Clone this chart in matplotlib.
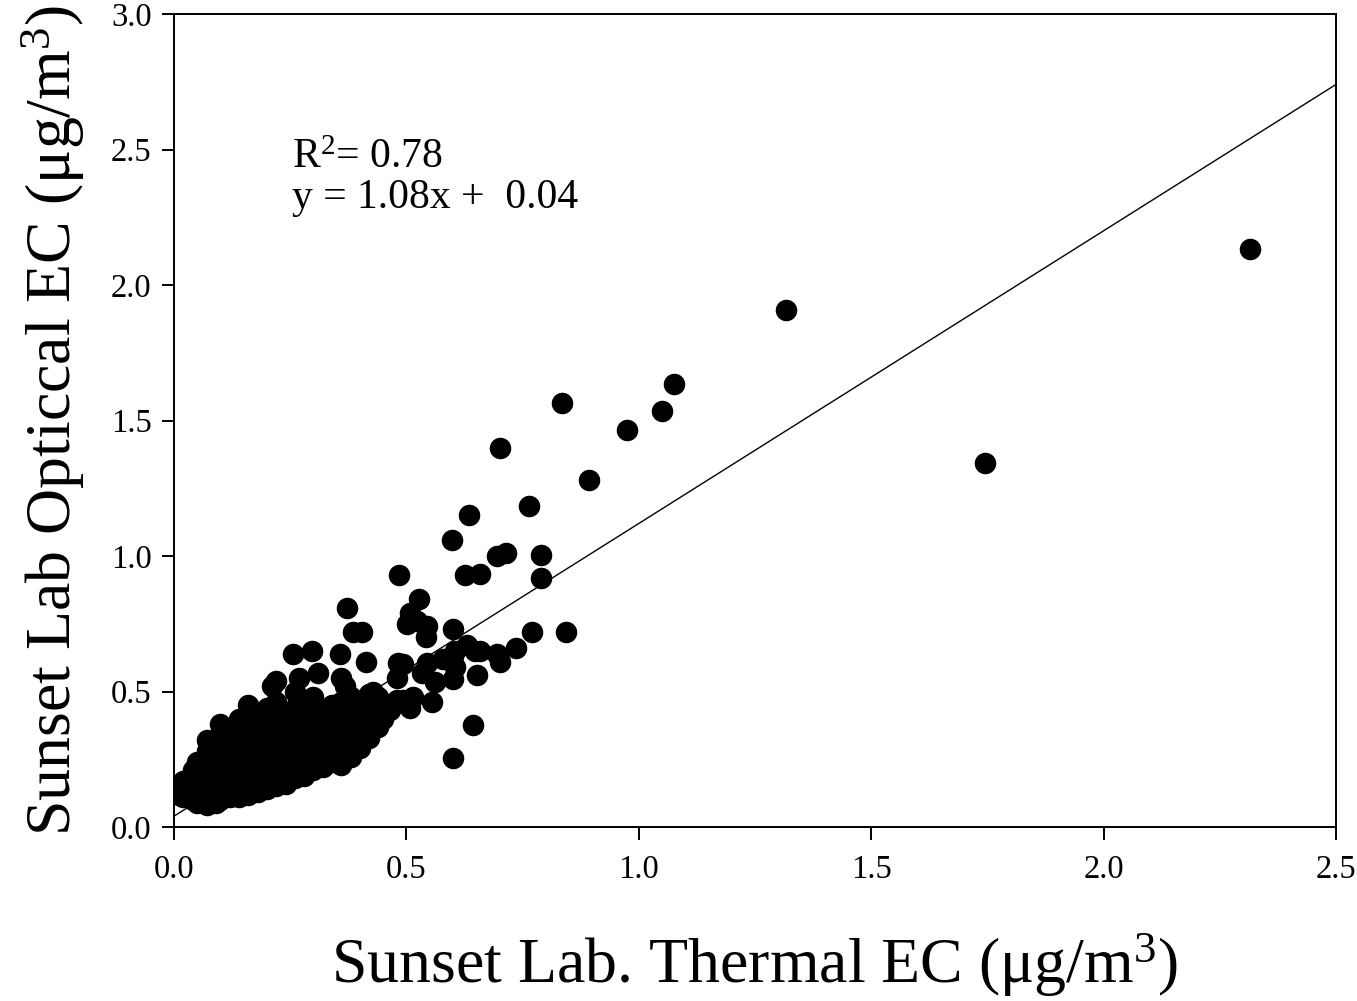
import matplotlib
matplotlib.use('Agg')
import matplotlib.pyplot as plt
import numpy as np

plt.rcParams['font.family'] = ['Liberation Serif', 'DejaVu Serif']
plt.rcParams['mathtext.fontset'] = 'custom'
plt.rcParams['mathtext.rm'] = 'Liberation Serif'
plt.rcParams['mathtext.it'] = 'Liberation Serif:italic'

# ---- Data (thermal EC, optical EC), ug/m3
thermal_ec = [
    0.01, 0.01,
    0.02, 0.02, 0.02,
    0.04, 0.04, 0.04, 0.04,
    0.05, 0.05, 0.05, 0.05, 0.05,
    0.07, 0.07, 0.07, 0.07, 0.07, 0.07, 0.07,
    0.09, 0.09, 0.09, 0.09, 0.09, 0.09,
    0.10, 0.10, 0.10, 0.10, 0.10, 0.10, 0.10, 0.10,
    0.12, 0.12, 0.12, 0.12, 0.12, 0.12, 0.12,
    0.14, 0.14, 0.14, 0.14, 0.14, 0.14, 0.14, 0.14,
    0.16, 0.16, 0.16, 0.16, 0.16, 0.16, 0.16, 0.16, 0.16,
    0.18, 0.18, 0.18, 0.18, 0.18, 0.18, 0.18, 0.18,
    0.20, 0.20, 0.20, 0.20, 0.20, 0.20, 0.20, 0.20,
    0.22, 0.22, 0.22, 0.22, 0.22, 0.22, 0.22, 0.22, 0.21,
    0.24, 0.24, 0.24, 0.24, 0.24, 0.24, 0.24, 0.22,
    0.26, 0.26, 0.26, 0.26, 0.26, 0.26, 0.26, 0.26, 0.256,
    0.28, 0.28, 0.28, 0.28, 0.28, 0.28, 0.28, 0.27,
    0.30, 0.30, 0.30, 0.30, 0.30, 0.30, 0.30, 0.297, 0.31,
    0.32, 0.32, 0.32, 0.32, 0.32, 0.32,
    0.34, 0.34, 0.34, 0.34, 0.34, 0.34,
    0.36, 0.36, 0.36, 0.36, 0.36, 0.36, 0.36, 0.357, 0.368,
    0.372, 0.38, 0.38, 0.38, 0.38, 0.38, 0.38, 0.385, 0.404,
    0.40, 0.40, 0.40, 0.40, 0.40, 0.413,
    0.42, 0.42, 0.42, 0.42, 0.42, 0.428,
    0.44, 0.44, 0.44, 0.44, 0.45,
    0.46, 0.465, 0.48, 0.484, 0.493, 0.482, 0.48, 0.493,
    0.501, 0.508, 0.508, 0.514, 0.523, 0.527, 0.542, 0.544, 0.544, 0.533, 0.555,
    0.561, 0.579, 0.598, 0.600, 0.600, 0.600, 0.605, 0.605, 0.626, 0.630, 0.600,
    0.635, 0.643, 0.648, 0.652, 0.658, 0.658, 0.695, 0.695, 0.701, 0.701,
    0.714, 0.736, 0.764, 0.770, 0.790, 0.790, 0.835, 0.843, 0.893,
    0.975, 1.050, 1.076, 1.317, 1.745, 2.315,
]
optical_ec = [
    0.13, 0.12,
    0.11, 0.14, 0.17,
    0.10, 0.13, 0.17, 0.21,
    0.09, 0.12, 0.16, 0.20, 0.24,
    0.08, 0.12, 0.16, 0.20, 0.24, 0.28, 0.32,
    0.09, 0.13, 0.17, 0.21, 0.25, 0.29,
    0.10, 0.14, 0.18, 0.22, 0.26, 0.30, 0.34, 0.38,
    0.11, 0.15, 0.19, 0.23, 0.27, 0.31, 0.35,
    0.11, 0.15, 0.19, 0.23, 0.27, 0.31, 0.36, 0.40,
    0.12, 0.16, 0.20, 0.24, 0.28, 0.32, 0.37, 0.42, 0.45,
    0.13, 0.17, 0.21, 0.25, 0.29, 0.34, 0.38, 0.41,
    0.14, 0.18, 0.22, 0.26, 0.30, 0.35, 0.39, 0.44,
    0.15, 0.19, 0.23, 0.27, 0.31, 0.36, 0.40, 0.46, 0.52,
    0.16, 0.20, 0.24, 0.28, 0.32, 0.37, 0.42, 0.54,
    0.18, 0.22, 0.26, 0.30, 0.34, 0.38, 0.44, 0.50, 0.64,
    0.19, 0.23, 0.27, 0.31, 0.35, 0.40, 0.45, 0.55,
    0.21, 0.25, 0.29, 0.33, 0.37, 0.42, 0.48, 0.65, 0.57,
    0.22, 0.26, 0.30, 0.34, 0.38, 0.43,
    0.24, 0.28, 0.32, 0.36, 0.40, 0.45,
    0.23, 0.27, 0.31, 0.35, 0.40, 0.46, 0.55, 0.64, 0.52,
    0.81, 0.26, 0.30, 0.34, 0.38, 0.43, 0.48, 0.72, 0.72,
    0.29, 0.33, 0.37, 0.41, 0.46, 0.61,
    0.33, 0.37, 0.41, 0.45, 0.49, 0.50,
    0.37, 0.41, 0.45, 0.48, 0.40,
    0.43, 0.43, 0.55, 0.93, 0.60, 0.605, 0.47, 0.47,
    0.75, 0.79, 0.44, 0.48, 0.76, 0.84, 0.70, 0.74, 0.605, 0.57, 0.46,
    0.535, 0.62, 1.06, 0.73, 0.63, 0.545, 0.59, 0.65, 0.93, 0.67, 0.255,
    1.15, 0.375, 0.65, 0.56, 0.65, 0.935, 1.00, 0.64, 1.40, 0.61,
    1.01, 0.66, 1.185, 0.72, 1.005, 0.92, 1.565, 0.72, 1.28,
    1.465, 1.535, 1.635, 1.908, 1.343, 2.133,
]

fit_slope = 1.08
fit_intercept = 0.04
fit_x = [0.0, 2.5]

fig = plt.figure(figsize=(13.57, 10.01), dpi=100)
ax = fig.add_axes([0.1282, 0.1738, 0.8563, 0.8122])

ax.plot(thermal_ec, optical_ec, 'o', color='black', markersize=15.5, markeredgewidth=0)
fit_y = [fit_slope * v + fit_intercept for v in fit_x]
ax.plot(fit_x, fit_y, color='black', linewidth=1.0)

ax.set_xlim(0, 2.5)
ax.set_ylim(0, 3.0)
ax.set_xticks(np.arange(0, 2.51, 0.5))
ax.set_yticks(np.arange(0, 3.01, 0.5))
ax.xaxis.set_major_formatter(plt.FormatStrFormatter('%.1f'))
ax.yaxis.set_major_formatter(plt.FormatStrFormatter('%.1f'))
ax.tick_params(direction='out', length=9, width=1.4, labelsize=23.5)
ax.tick_params(axis='x', pad=11)
ax.tick_params(axis='y', pad=7)
for s in ax.spines.values():
    s.set_linewidth(1.4)

ax.set_xlabel('Sunset Lab. Thermal EC (μg/m$^3$)', fontsize=46, labelpad=33)
ax.set_ylabel('Sunset Lab Opticcal EC (μg/m$^3$)', fontsize=46, labelpad=17)

ax.text(0.255, 2.432, 'R$^2$= 0.78', fontsize=30, va='baseline')
ax.text(0.255, 2.284, 'y = 1.08x +  0.04', fontsize=30, va='baseline')

plt.savefig('out.png')
